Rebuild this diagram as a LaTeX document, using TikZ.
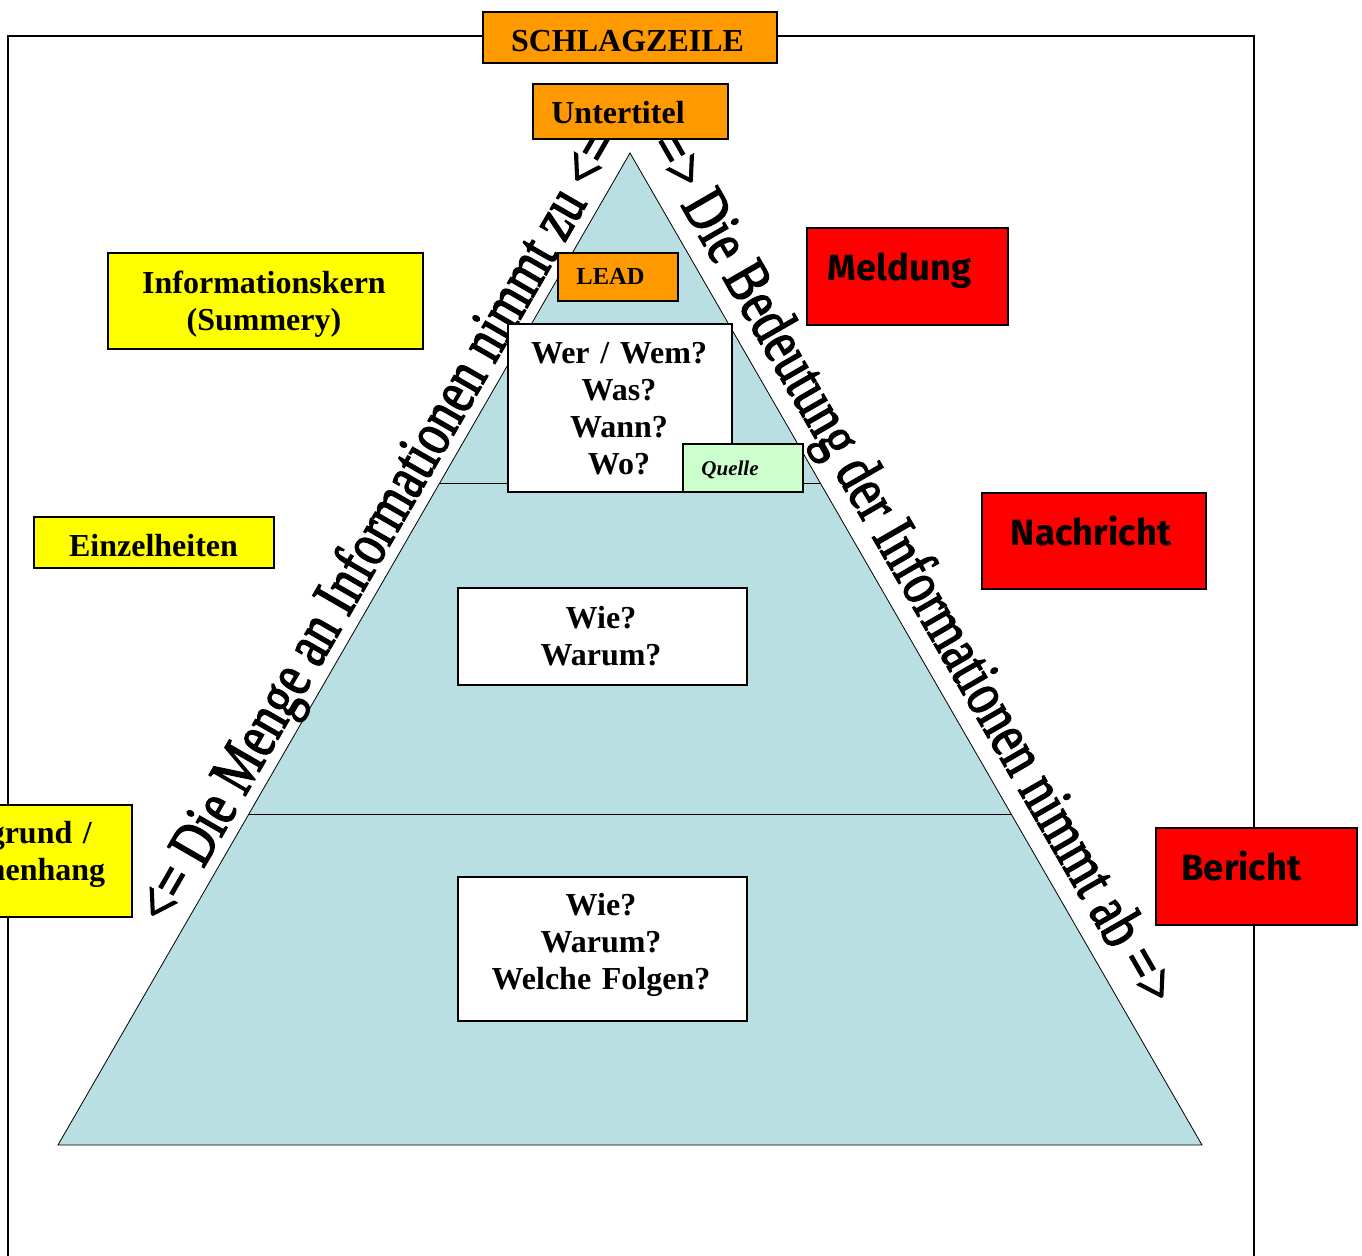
\documentclass[tikz,border=0pt]{standalone}
\usepackage{fontspec}
\setmainfont{Liberation Serif}
\newfontfamily\comicfont{Fira Sans}
\newfontfamily\wordartfont[FakeBold=2.5]{Liberation Serif}
\usetikzlibrary{calc}
\definecolor{orangeC}{HTML}{FF9900}
\definecolor{yellowC}{HTML}{FFFF00}
\definecolor{redC}{HTML}{FF0000}
\definecolor{greenC}{HTML}{CCFFCC}
\definecolor{triC}{HTML}{B9DFE3}
\begin{document}
\begin{tikzpicture}[x=1pt,y=-1pt,
  box/.style={draw=black, line width=1.6pt, inner sep=0pt, anchor=north west},
  txt/.style={font=\bfseries\fontsize{32}{37}\selectfont, inner sep=0pt, anchor=base},
  mtxt/.style={txt, text width=320pt, align=center},
  ctxt/.style={font=\comicfont\bfseries\fontsize{36.5}{40}\selectfont, inner sep=0pt, anchor=base},
  rot/.style={font=\wordartfont\fontsize{49}{55}\selectfont, inner sep=0pt, anchor=base},
  edge/.style={draw=black, line width=0.8pt}]
\useasboundingbox (0,0) rectangle (1362,1255);
\clip (0,0) rectangle (1362,1255);
% frame
\coordinate (fbl) at (8,1260);
\coordinate (ftl) at (8,36);
\coordinate (ftr) at (1254,36);
\coordinate (fbr) at (1254,1260);
\draw[line width=1.6pt] (fbl) -- (ftl) -- (ftr) -- (fbr);
% pyramid
\coordinate (apex) at (630,153);
\coordinate (bl) at (58,1145);
\coordinate (br) at (1202,1145);
\draw[edge, fill=triC] (apex) -- (br) -- (bl) -- cycle;
\coordinate (l1) at ($(apex)!0.3327!(bl)$);
\coordinate (r1) at ($(apex)!0.3327!(br)$);
\coordinate (l2) at ($(apex)!0.6663!(bl)$);
\coordinate (r2) at ($(apex)!0.6663!(br)$);
\draw[edge] (l1) -- (r1);
\draw[edge] (l2) -- (r2);
% rotated texts
\node[rot, rotate=60, yscale=1.3] (leftT) at (395.3,536.1) {<= Die Menge an Informationen nimmt zu <=};
\node[rot, rotate=-60, yscale=1.3] (rightT) at (895.7,577.8) {=> Die Bedeutung der Informationen nimmt ab =>};
% boxes
\node[box, fill=orangeC, minimum width=294pt, minimum height=51pt] (schlag) at (482,11) {};
\node[box, fill=orangeC, minimum width=195pt, minimum height=55pt] (unter) at (532,83) {};
\node[box, fill=orangeC, minimum width=120pt, minimum height=48pt] (lead) at (557,252) {};
\node[box, fill=white, minimum width=224pt, minimum height=168pt] (wer) at (507,323) {};
\node[box, fill=greenC, minimum width=120pt, minimum height=48pt] (quelle) at (682,443) {};
\node[box, fill=white, minimum width=289pt, minimum height=97pt] (wie1) at (457,587) {};
\node[box, fill=white, minimum width=289pt, minimum height=144pt] (wie2) at (457,876) {};
\node[box, fill=yellowC, minimum width=315pt, minimum height=96pt] (info) at (107,252) {};
\node[box, fill=yellowC, minimum width=240pt, minimum height=51pt] (einz) at (33,516) {};
\node[box, fill=yellowC, minimum width=272pt, minimum height=112pt] (hint) at (-141,804) {};
\node[box, fill=redC, minimum width=201pt, minimum height=97pt] (meld) at (806,227) {};
\node[box, fill=redC, minimum width=224pt, minimum height=96pt] (nach) at (981,492) {};
\node[box, fill=redC, minimum width=201pt, minimum height=97pt] (ber) at (1155,827) {};
% texts
\node[txt] (schlagT) at (627.5,52) {SCHLAGZEILE};
\node[txt] (unterT) at (618,123) {Untertitel};
\node[txt, font=\bfseries\fontsize{24.5}{28}\selectfont] (leadT) at (610.5,284) {LEAD};
\node[mtxt] (werT) at (619,363) {Wer / Wem?\\Was?\\Wann?\\Wo?};
\node[txt, font=\bfseries\itshape\fontsize{21}{25}\selectfont] (quelleT) at (730,475) {Quelle};
\node[mtxt] (infoT) at (264,293) {Informationskern\\(Summery)};
\node[txt] (einzT) at (153.5,556) {Einzelheiten};
\node[mtxt] (hintT) at (-5,843) {Hintergrund /\\Zusammenhang};
\node[mtxt] (wie1T) at (601,628) {Wie?\\Warum?};
\node[mtxt] (wie2T) at (601,915) {Wie?\\Warum?\\Welche Folgen?};
\node[ctxt] (meldT) at (899.5,280) {Meldung};
\node[ctxt] (nachT) at (1091,545) {Nachricht};
\node[ctxt] (berT) at (1241.5,880) {Bericht};
\end{tikzpicture}
\end{document}
